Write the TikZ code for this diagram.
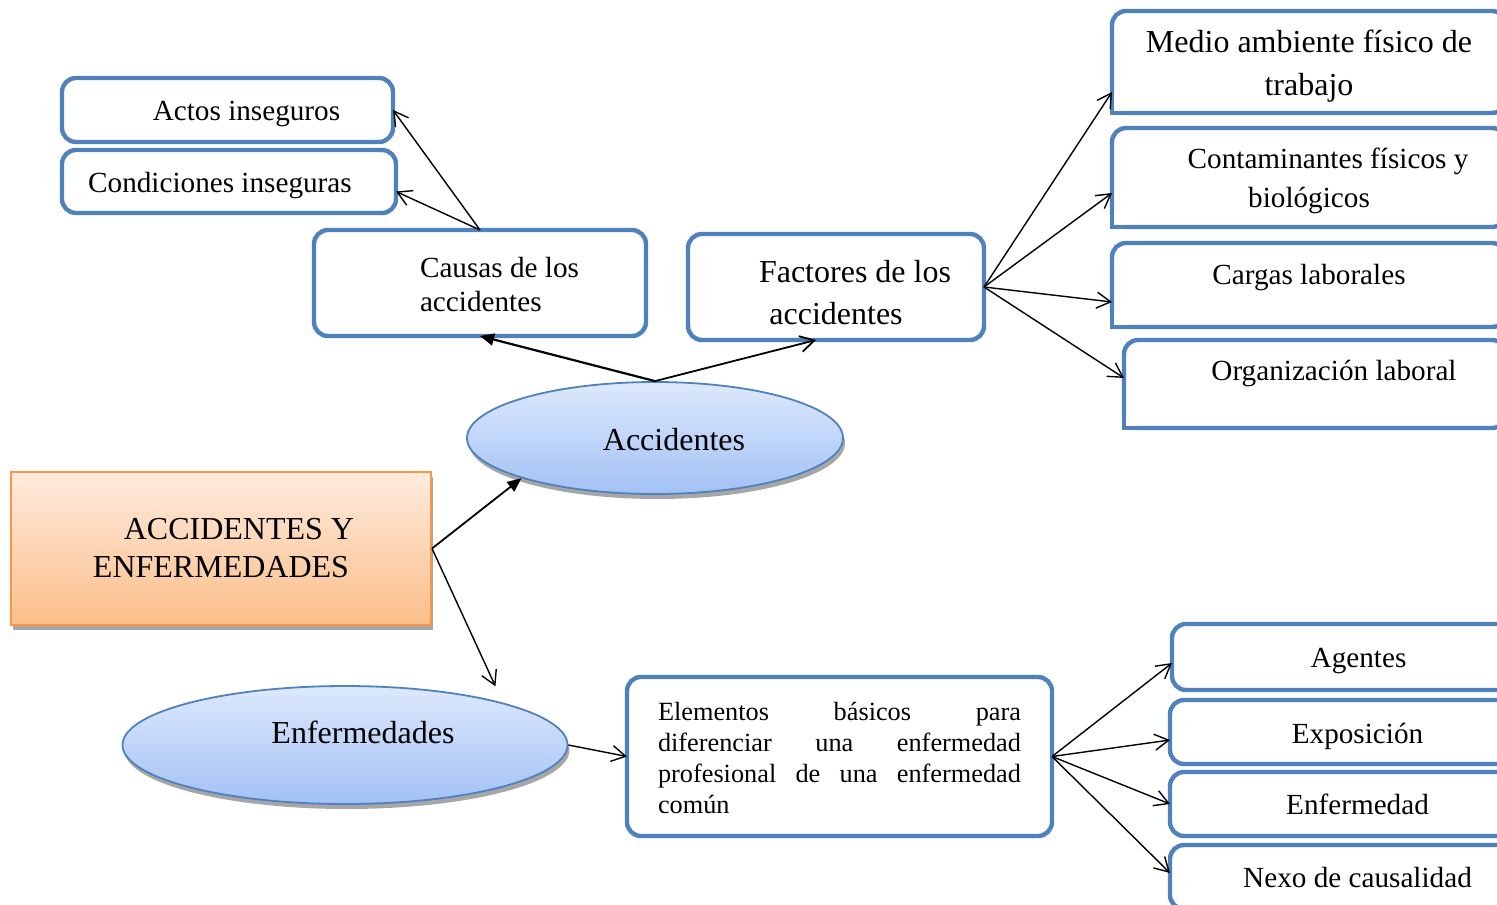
\documentclass[tikz,border=0pt]{standalone}
\usepackage{fontspec}
\setmainfont{Liberation Serif}
\usetikzlibrary{shapes.geometric,arrows.meta,shadows}
\definecolor{boxblue}{HTML}{4F81BD}
\definecolor{ovtop}{HTML}{DDE9FC}
\definecolor{ovbot}{HTML}{A2C1F5}
\definecolor{rttop}{HTML}{FEEBDD}
\definecolor{rtbot}{HTML}{FBBE8A}
\definecolor{rtline}{HTML}{F79646}
\newcommand{\up}[1]{\rule{0pt}{#1}}
\newcommand{\jline}[1]{\leavevmode\hbox to 181.5pt{#1}}
\begin{document}
\begin{tikzpicture}[x=0.5pt,y=-0.5pt,
  bbox/.style={draw=boxblue,line width=2.2pt,rounded corners=7pt,fill=white,inner sep=0pt,outer sep=0pt,
    font=\fontsize{14.6pt}{17.5pt}\selectfont},
  oval/.style={ellipse,draw=boxblue,line width=0.9pt,top color=ovtop,bottom color=ovbot,inner sep=0pt,
    font=\fontsize{16pt}{19pt}\selectfont,
    drop shadow={shadow xshift=1pt,shadow yshift=-2.5pt,opacity=1,fill=black!35}},
  rootbox/.style={rectangle,draw=rtline,line width=1pt,top color=rttop,bottom color=rtbot,inner sep=0pt,
    font=\fontsize{16pt}{19pt}\selectfont,
    drop shadow={shadow xshift=0.8pt,shadow yshift=-2.5pt,opacity=1,fill=black!35}},
  cornerline/.style={draw=boxblue,line width=2.2pt},
  openarr/.style={-{Straight Barb[length=7pt,width=8pt]},line width=0.7pt},
  fillarr/.style={-{Triangle[length=7pt,width=6pt]},line width=0.9pt}
]
\useasboundingbox (0,0) rectangle (1497,904);
\clip (0,0) rectangle (1497,904);

% left top boxes
\node[bbox,minimum width=165.5pt,minimum height=32pt] (actos) at (227.5,110) {\up{14pt}\hspace*{19pt}Actos inseguros};
\node[bbox,minimum width=167pt,minimum height=31.5pt] (cond) at (229,181.5) {\up{14pt}\hspace*{-9pt}Condiciones inseguras};
\node[bbox,minimum width=166pt,minimum height=53pt,align=left,font={\fontsize{14.6pt}{17pt}\selectfont}] (causas) at (480,283)
  {\up{12pt}\hspace*{19.5pt}Causas de los\\\hspace*{19.5pt}accidentes};
\node[bbox,minimum width=148pt,minimum height=53pt,align=center,font={\fontsize{16pt}{21pt}\selectfont}] (fact) at (836,287)
  {\up{17pt}\hspace*{19pt}Factores de los\\accidentes};

% right top boxes (round diagonal corners)
\node[bbox,minimum width=197pt,minimum height=51pt,align=center,font={\fontsize{16pt}{21.5pt}\selectfont}] (medio) at (1309,62)
  {\up{15.5pt}Medio ambiente físico de\\trabajo};
\node[bbox,minimum width=197pt,minimum height=49.5pt,align=center,font={\fontsize{14.6pt}{19.5pt}\selectfont}] (cont) at (1309,177.5)
  {\up{14pt}\hspace*{19pt}Contaminantes físicos y\\biológicos};
\node[bbox,minimum width=197pt,minimum height=42pt,text depth=13pt] (cargas) at (1309,285) {\up{12pt}Cargas laborales};
\node[bbox,minimum width=191pt,minimum height=44pt,text depth=16pt] (org) at (1315,384) {\up{12.5pt}\hspace*{19pt}Organización laboral};
\foreach \b in {medio,cont,cargas,org}{
  \fill[white] ([xshift=1.1pt,yshift=1.1pt]\b.south west) rectangle ([xshift=7.6pt,yshift=7.6pt]\b.south west);
  \draw[cornerline] ([yshift=9pt]\b.south west) -- (\b.south west) -- ([xshift=9pt]\b.south west);
}

% ellipses and root
\node[oval,minimum width=188pt,minimum height=56pt] (acc) at (655,438) {\up{13pt}\hspace*{19pt}Accidentes};
\node[oval,minimum width=222.5pt,minimum height=59pt,text depth=15.5pt] (enf) at (345,745) {\up{14pt}\hspace*{18pt}Enfermedades};
\node[rootbox,minimum width=210pt,minimum height=76.5pt,align=center] (root) at (221,548.5)
  {\hspace*{18pt}ACCIDENTES Y\\ENFERMEDADES};

% bottom
\node[bbox,minimum width=212.5pt,minimum height=79.5pt,text width=181.5pt,align=left,
  font={\fontsize{13.15pt}{15.5pt}\selectfont}] (elem) at (839.5,756.5)
  {\jline{\up{11pt}Elementos\hfill básicos\hfill para}\\
   \jline{diferenciar\hfill una\hfill enfermedad}\\
   \jline{profesional\hfill de\hfill una\hfill enfermedad}\\
   común};
\node[bbox,minimum width=186.5pt,minimum height=33pt] (agentes) at (1358.5,657) {\up{14pt}Agentes};
\node[bbox,minimum width=187.5pt,minimum height=32pt] (expo) at (1357.5,732) {\up{14.4pt}Exposición};
\node[bbox,minimum width=187.5pt,minimum height=32pt] (enfd) at (1357.5,804) {Enfermedad};
\node[bbox,minimum width=187.5pt,minimum height=32pt] (nexo) at (1357.5,877) {Nexo de causalidad};

% connectors
\draw[openarr] (causas.north) -- (actos.east);
\draw[openarr] (causas.north) -- ([yshift=-5pt]cond.east);
\draw[fillarr,line width=1.1pt] (acc.north) -- (causas.south);
\draw[openarr,line width=0.9pt] (acc.north) -- ([xshift=-10pt]fact.south);
\draw[openarr] (fact.east) -- ([yshift=-15pt]medio.west);
\draw[openarr] (fact.east) -- ([yshift=-7.75pt]cont.west);
\draw[openarr] (fact.east) -- ([yshift=-8.5pt]cargas.west);
\draw[openarr] (fact.east) -- ([yshift=3pt]org.west);
\draw[fillarr] (root.east) -- (acc.south west);
\draw[openarr,shorten >=9pt] (root.east) -- (enf.north east);
\draw[openarr] (enf.east) -- (elem.west);
\draw[openarr] (elem.east) -- ([yshift=-3pt]agentes.west);
\draw[openarr] (elem.east) -- ([yshift=-4pt]expo.west);
\draw[openarr] (elem.east) -- (enfd.west);
\draw[openarr] (elem.east) -- ([yshift=2pt]nexo.west);
\end{tikzpicture}
\end{document}
